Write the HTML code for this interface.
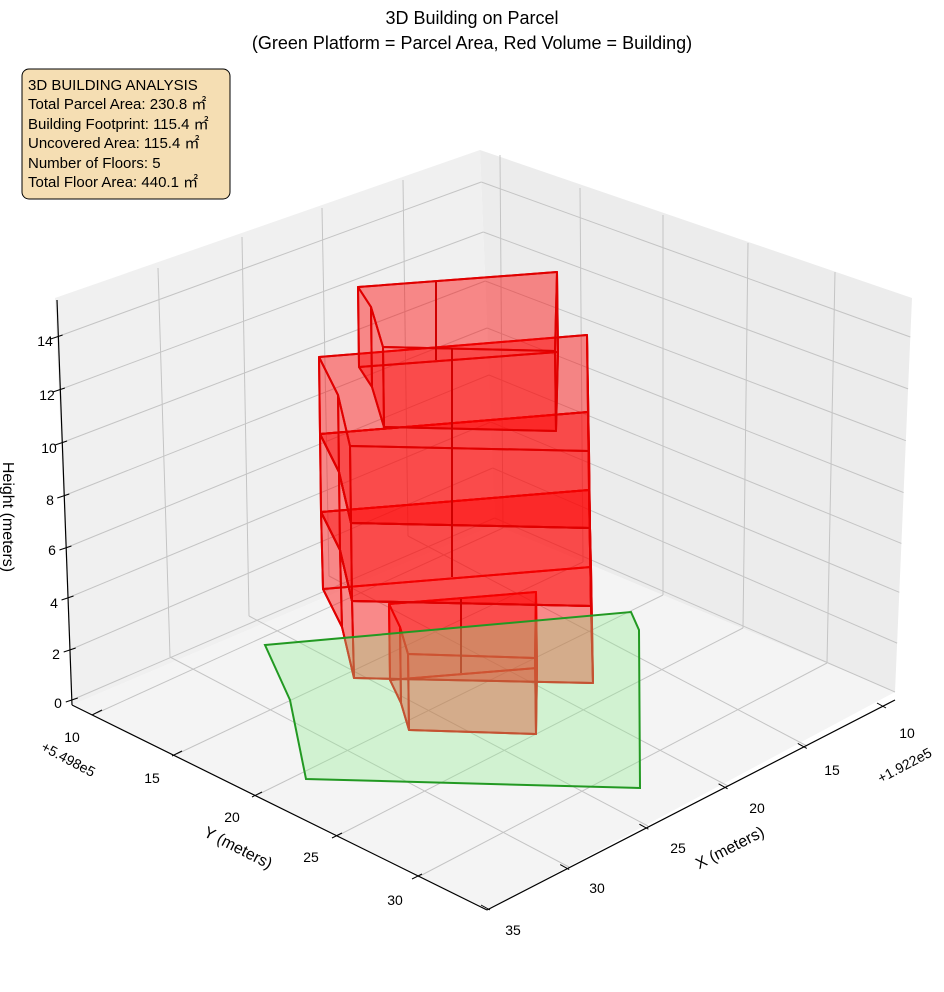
<!DOCTYPE html>
<html><head><meta charset="utf-8"><style>
html,body{margin:0;padding:0;background:#fff;}
svg{display:block;font-family:"Liberation Sans","DejaVu Sans",sans-serif;}
</style></head><body>
<svg id="s" width="944" height="992" viewBox="0 0 944 992" xmlns="http://www.w3.org/2000/svg">
<text x="472" y="24" font-size="18" text-anchor="middle" fill="#000">3D Building on Parcel</text>
<text x="472" y="49" font-size="18" text-anchor="middle" fill="#000">(Green Platform = Parcel Area, Red Volume = Building)</text>
<polygon points="72,705 55,298 480,150 495,525" fill="#f0f0f0"/>
<polygon points="495,525 480,150 912,298 895,692" fill="#ececec"/>
<polygon points="72,705 495,525 895,692 487,910" fill="#f4f4f4"/>
<g id="grid" stroke="#c4c4c4" stroke-width="1" fill="none"></g>
<g id="bld"></g>
<polygon points="265,645 631,612 639,630 640,788 306,779 290,700" fill="rgba(144,238,144,0.35)" stroke="#229922" stroke-width="2"/>
<g stroke="#000" stroke-width="1.2" fill="none">
<line x1="57" y1="300" x2="72" y2="705"/>
<line x1="72" y1="705" x2="487" y2="910"/>
<line x1="487" y1="910" x2="895" y2="700"/>
</g>
<g id="ticks" stroke="#000" stroke-width="1"></g>
<g font-size="14" fill="#000" text-anchor="middle">
<text x="45" y="346">14</text><text x="47" y="400">12</text><text x="49" y="453">10</text>
<text x="50" y="505">8</text><text x="52" y="555">6</text><text x="54" y="608">4</text>
<text x="56" y="659">2</text><text x="58" y="708">0</text>
<text x="72" y="742">10</text><text x="152" y="783">15</text><text x="232" y="822">20</text>
<text x="311" y="862">25</text><text x="395" y="905">30</text>
<text x="513" y="935">35</text><text x="597" y="893">30</text><text x="678" y="853">25</text>
<text x="757" y="813">20</text><text x="832" y="775">15</text><text x="907" y="738">10</text>
<text x="68" y="764" transform="rotate(28 68 760)">+5.498e5</text>
<text x="905" y="770" transform="rotate(-28 905 766)">+1.922e5</text>
</g>
<text x="238" y="853" font-size="16" text-anchor="middle" transform="rotate(27 238 848)">Y (meters)</text>
<text x="730" y="853" font-size="16" text-anchor="middle" transform="rotate(-27 730 848)">X (meters)</text>
<text x="10" y="510" font-size="16" text-anchor="middle" transform="rotate(90 3 510)">Height (meters)</text>
<rect x="22" y="69" width="208" height="130" rx="7" fill="#f5deb3" stroke="#000" stroke-width="1"/>
<g font-size="15" fill="#000">
<text x="28" y="90">3D BUILDING ANALYSIS</text>
<text x="28" y="109">Total Parcel Area: 230.8 ㎡</text>
<text x="28" y="129">Building Footprint: 115.4 ㎡</text>
<text x="28" y="148">Uncovered Area: 115.4 ㎡</text>
<text x="28" y="168">Number of Floors: 5</text>
<text x="28" y="187">Total Floor Area: 440.1 ㎡</text>
</g>
</svg>
<script>
var NS="http://www.w3.org/2000/svg";
function el(p,t,a){var e=document.createElementNS(NS,t);for(var k in a)e.setAttribute(k,a[k]);p.appendChild(e);return e;}
var g=document.getElementById("grid");
function L(a,b,c,d){el(g,"line",{x1:a,y1:b,x2:c,y2:d});}
var zl=[337,390,443,496,548,598,650,700], zb=[182,232,281,328,375,422,468,518];
for(var i=0;i<8;i++){
 var y=zl[i],x=55+(y-298)/(705-298)*17;
 var yb=zb[i],xb=480+(yb-150)/375*15;
 var yr=zl[i]-8*(i/7),xr=912-(yr-298)/(692-298)*17;
 L(x,y,xb,yb);L(xb,yb,xr,yr);
}
var lb=[[170,657],[249,616],[329,576],[408,536]],lt=[[158,268],[242,237],[322,208],[403,180]],xf=[[569,867],[648,826],[728,786],[807,746]];
for(i=0;i<4;i++){L(lb[i][0],lb[i][1],lt[i][0],lt[i][1]);L(lb[i][0],lb[i][1],xf[i][0],xf[i][1]);}
var rb=[[503,528],[583,562],[663,595],[743,628],[827,663]],rt=[[500,155],[580,188],[663,215],[748,243],[835,272]],yf=[[97,713],[177,754],[257,795],[337,836],[418,877]];
for(i=0;i<5;i++){L(rb[i][0],rb[i][1],rt[i][0],rt[i][1]);L(rb[i][0],rb[i][1],yf[i][0],yf[i][1]);}
var tk=document.getElementById("ticks");
for(i=0;i<8;i++){var y=zl[i],x=55+(y-298)/(705-298)*17+2;el(tk,"line",{x1:x-8,y1:y+2,x2:x+4,y2:y-2});}
for(i=0;i<5;i++){var p=[92+80*i,715+41*i];el(tk,"line",{x1:p[0],y1:p[1],x2:p[0]+10,y2:p[1]-5});}
for(i=0;i<6;i++){var p=[490+79.2*i,910-40.4*i];el(tk,"line",{x1:p[0],y1:p[1],x2:p[0]-9,y2:p[1]-5});}
var b=document.getElementById("bld");
function block(top,bot,off){
 var T=off.map(function(o){return [top[0]+o[0],top[1]+o[1]];});
 var B=off.map(function(o){return [bot[0]+o[0],bot[1]+o[1]];});
 var st={fill:"rgba(255,0,0,0.25)",stroke:"#e00000","stroke-width":"2","stroke-linejoin":"round"};
 function P(a){var s=Object.assign({},st);s.points=a.map(function(p){return p.join(",");}).join(" ");el(b,"polygon",s);}
 P(B);
 for(var k=0;k<T.length;k++){var n=(k+1)%T.length;P([T[k],T[n],B[n],B[k]]);}
 P(T);
}
block([389,604],[390,680],[[0,0],[147,-12],[146,54],[19,50],[11,23]]);
var off=[[0,0],[268,-22],[270,94],[31,89],[19,38]];
block([321,512],[323,589],off);
block([320,434],[321,512],off);
block([319,357],[320,434],off);
block([358,287],[359,367],[[0,0],[199,-15],[197,64],[25,60],[13,20]]);
el(b,"line",{x1:452,y1:348,x2:452,y2:577,stroke:"#d00000","stroke-width":"2"});
el(b,"line",{x1:436,y1:282,x2:436,y2:360,stroke:"#d00000","stroke-width":"2"});
el(b,"line",{x1:461,y1:599,x2:461,y2:673,stroke:"#d00000","stroke-width":"2"});
</script>
</body></html>
